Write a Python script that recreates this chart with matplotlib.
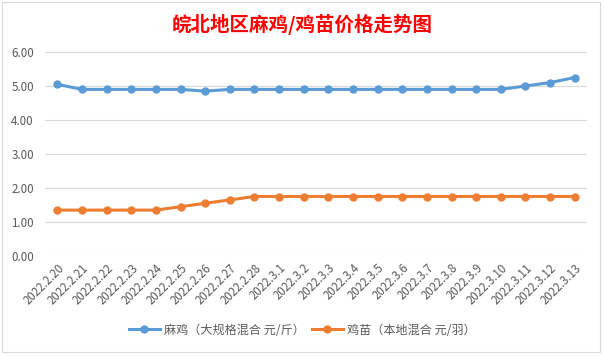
import matplotlib
matplotlib.use("Agg")
import matplotlib.pyplot as plt
from matplotlib.patches import Rectangle

plt.rcParams['font.family'] = ['Noto Sans CJK SC', 'DejaVu Sans']

dates = ["2022.2.20", "2022.2.21", "2022.2.22", "2022.2.23", "2022.2.24", "2022.2.25",
         "2022.2.26", "2022.2.27", "2022.2.28", "2022.3.1", "2022.3.2", "2022.3.3",
         "2022.3.4", "2022.3.5", "2022.3.6", "2022.3.7", "2022.3.8", "2022.3.9",
         "2022.3.10", "2022.3.11", "2022.3.12", "2022.3.13"]
maji = [5.05, 4.9, 4.9, 4.9, 4.9, 4.9, 4.85, 4.9, 4.9, 4.9, 4.9, 4.9,
        4.9, 4.9, 4.9, 4.9, 4.9, 4.9, 4.9, 5.0, 5.1, 5.25]
jimiao = [1.35, 1.35, 1.35, 1.35, 1.35, 1.45, 1.55, 1.65, 1.75, 1.75, 1.75, 1.75,
          1.75, 1.75, 1.75, 1.75, 1.75, 1.75, 1.75, 1.75, 1.75, 1.75]
yticks = [0, 1, 2, 3, 4, 5, 6]
title = "皖北地区麻鸡/鸡苗价格走势图"
label1 = "麻鸡（大规格混合 元/斤）"
label2 = "鸡苗（本地混合 元/羽）"

fig = plt.figure(figsize=(6.04, 3.56), dpi=100)
fig.patch.set_facecolor('white')
fig.add_artist(Rectangle((0.004, 0.012), 0.99, 0.982, transform=fig.transFigure,
                         fill=False, edgecolor='#d9d9d9', linewidth=0.8))

ax = fig.add_axes([45/604, 1-256/356, 542/604, 204/356])
x = list(range(len(dates)))
blue = '#5B9BD5'
orange = '#ED7D31'
ax.plot(x, maji, color=blue, lw=2.2, marker='o', ms=5, label=label1, zorder=3)
ax.plot(x, jimiao, color=orange, lw=2.2, marker='o', ms=5, label=label2, zorder=3)

ax.set_xlim(-0.5, len(dates)-0.5)
ax.set_ylim(0, 6)
ax.set_yticks(yticks)
ax.set_yticklabels([f"{v:.2f}" for v in yticks])
ax.set_xticks(x)
ax.set_xticklabels(dates, rotation=45, ha='right', va='top', rotation_mode='anchor')
ax.grid(axis='y', color='#d9d9d9', lw=0.8)
ax.set_axisbelow(True)
for s in ax.spines.values():
    s.set_visible(False)
ax.tick_params(axis='both', length=0, colors='#595959', labelsize=8.3)
ax.tick_params(axis='x', pad=4)
ax.tick_params(axis='y', pad=8)

fig.text(0.5, 1-24/356, title, ha='center', va='center', color='#FF0000',
         fontsize=14, fontweight='bold')

fig.legend(loc='center', bbox_to_anchor=(0.5, 1-330/356), ncol=2, frameon=False,
           fontsize=8.7, labelcolor='#595959', handlelength=2.6, columnspacing=0.6,
           handletextpad=0.3)

fig.savefig("out.png", dpi=100, facecolor='white')
